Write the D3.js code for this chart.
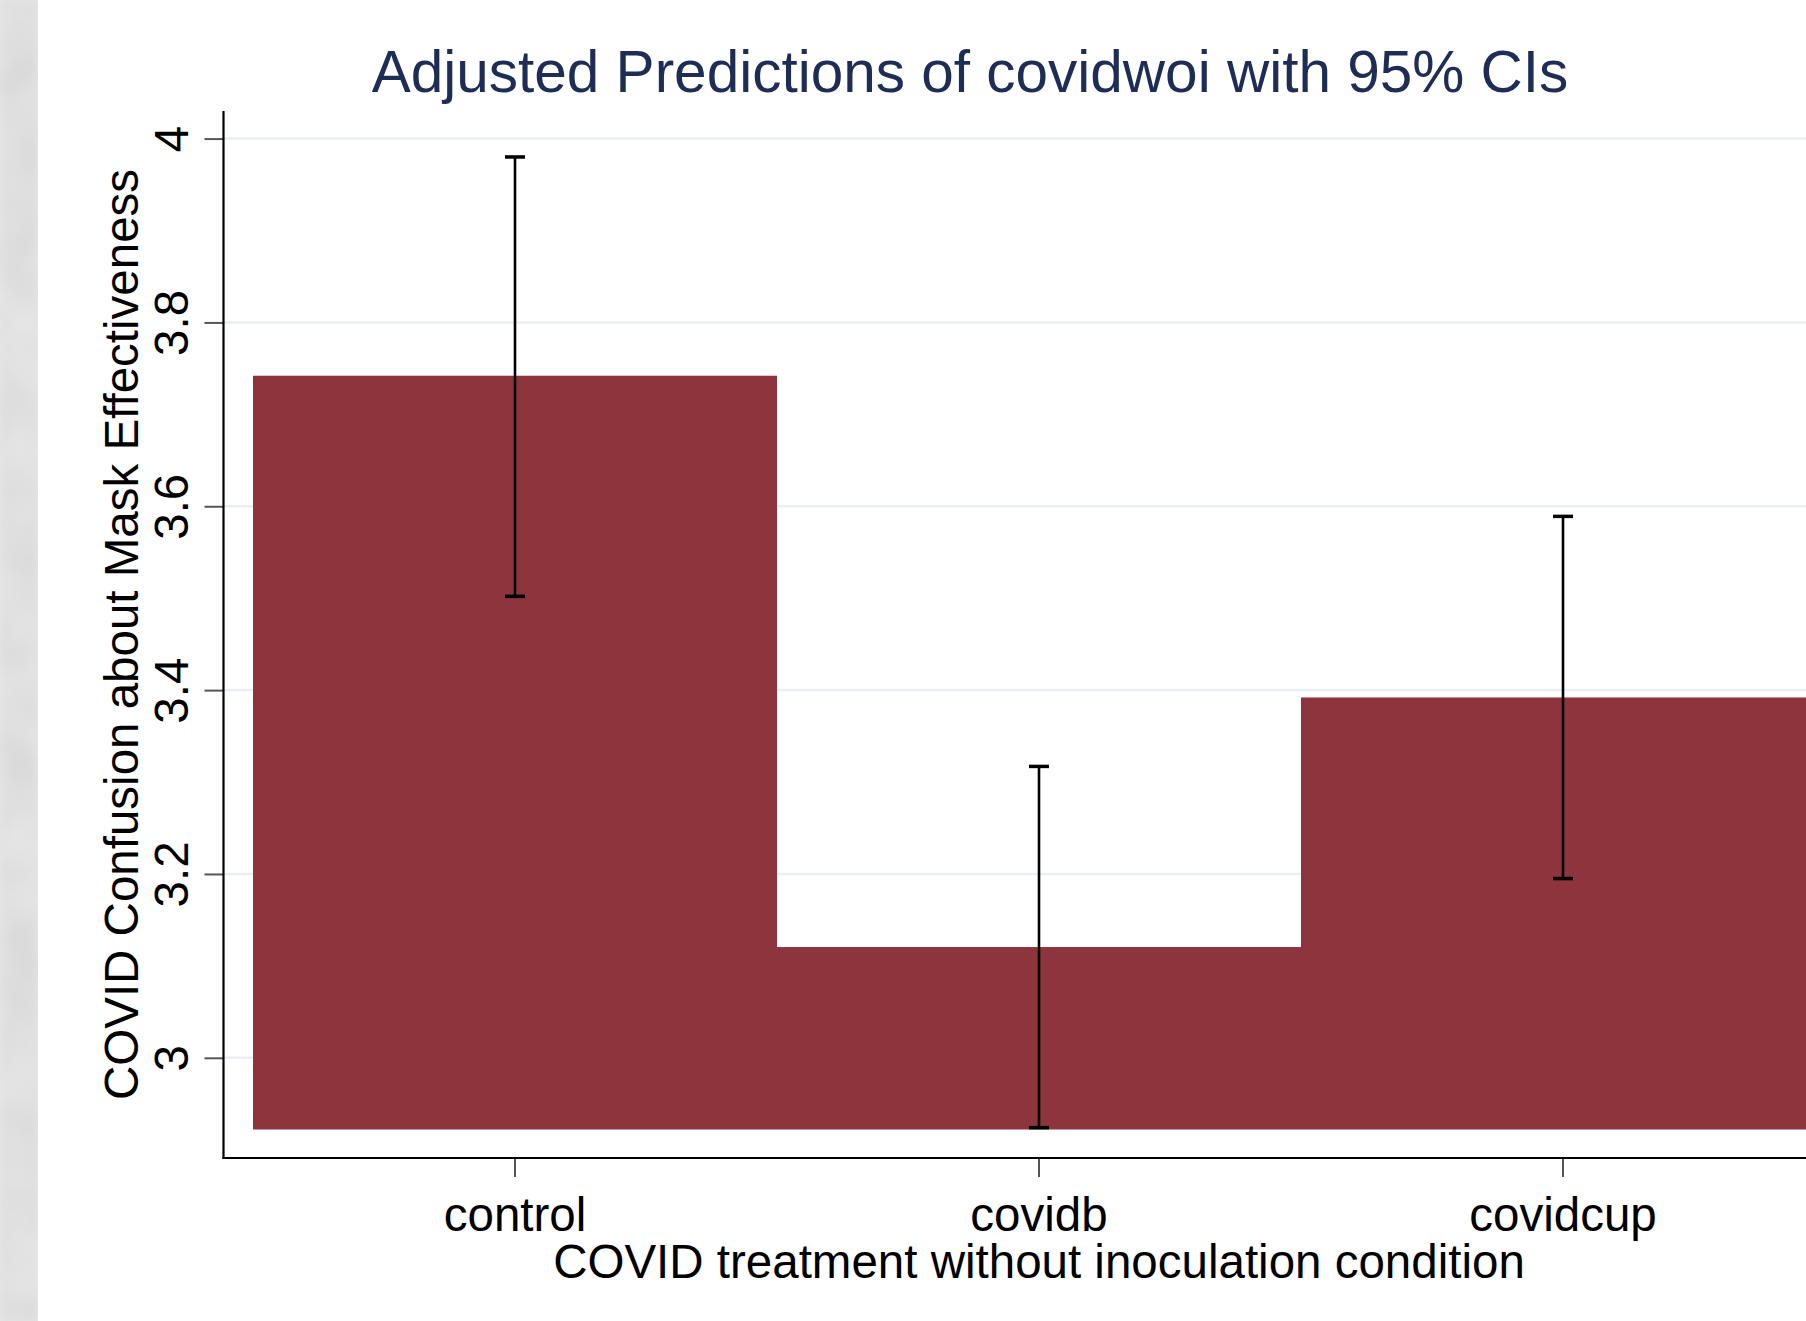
<!DOCTYPE html>
<html>
<head>
<meta charset="utf-8">
<script src="https://cdn.jsdelivr.net/npm/d3@7"></script>
<style>
  html, body { margin: 0; padding: 0; background: #ffffff; }
  svg { display: block; }
  text { font-family: "Liberation Sans", Arial, "DejaVu Sans", sans-serif; }
</style>
</head>
<body>
<script>
// ---- data ----
const categories = ["control", "covidb", "covidcup"];
const margins    = [3.742, 3.1205, 3.392];   // adjusted predictions
const ciLower    = [3.502, 2.924, 3.195];
const ciUpper    = [3.980, 3.317, 3.589];
const barBase    = 2.922;
const yTicks     = [3, 3.2, 3.4, 3.6, 3.8, 4];
const yTickLabels = ["3", "3.2", "3.4", "3.6", "3.8", "4"];
const titleText  = "Adjusted Predictions of covidwoi with 95% CIs";
const yTitleText = "COVID Confusion about Mask Effectiveness";
const xTitleText = "COVID treatment without inoculation condition";

// ---- layout ----
const W = 1806, H = 1321;
const axisX = 223.5, axisBottomY = 1158, axisTopY = 111;

const svg = d3.select("body").append("svg")
  .attr("width", W).attr("height", H);

// textured grey strip on the left
const defs = svg.append("defs");
const f = defs.append("filter").attr("id", "tex").attr("x", 0).attr("y", 0).attr("width", 1).attr("height", 1);
f.append("feTurbulence").attr("type", "fractalNoise").attr("baseFrequency", "0.018").attr("numOctaves", 2).attr("seed", 3).attr("result", "n");
f.append("feColorMatrix").attr("in", "n").attr("type", "matrix")
  .attr("values", "0 0 0 0 0.45  0 0 0 0 0.45  0 0 0 0 0.45  0 0 0 0.6 -0.1");
f.append("feGaussianBlur").attr("stdDeviation", 4);
svg.append("rect").attr("x", 0).attr("y", 0).attr("width", 38).attr("height", H).attr("fill", "#e6e6e6");
svg.append("rect").attr("x", 0).attr("y", 0).attr("width", 38).attr("height", H).attr("fill", "#ffffff").attr("filter", "url(#tex)").attr("opacity", 0.6);

// ---- scales ----
const y = d3.scaleLinear().domain([2.891, 4.030]).range([axisBottomY, axisTopY]);
const x = d3.scaleBand().domain(categories).range([253, 1825]).padding(0);

// gridlines
svg.append("g").selectAll("line").data(yTicks).join("line")
  .attr("x1", axisX).attr("x2", W)
  .attr("y1", d => y(d)).attr("y2", d => y(d))
  .attr("stroke", "#e8f0f1").attr("stroke-width", 2.5);

// bars
svg.append("g").selectAll("rect").data(categories).join("rect")
  .attr("x", d => x(d))
  .attr("width", x.bandwidth())
  .attr("y", (d, i) => y(margins[i]))
  .attr("height", (d, i) => y(barBase) - y(margins[i]))
  .attr("fill", "#8e343c");

// error bars
const capW = 20;
const eb = svg.append("g").attr("stroke", "#000").attr("stroke-width", 2.6);
categories.forEach((c, i) => {
  const cx = x(c) + x.bandwidth() / 2;
  eb.append("line").attr("x1", cx).attr("x2", cx).attr("y1", y(ciLower[i])).attr("y2", y(ciUpper[i]));
  eb.append("line").attr("x1", cx - capW / 2).attr("x2", cx + capW / 2).attr("y1", y(ciUpper[i])).attr("y2", y(ciUpper[i])).attr("stroke-width", 3.5);
  eb.append("line").attr("x1", cx - capW / 2).attr("x2", cx + capW / 2).attr("y1", y(ciLower[i])).attr("y2", y(ciLower[i])).attr("stroke-width", 3.5);
});

// y axis
const yAxis = svg.append("g").attr("transform", `translate(${axisX},0)`)
  .call(d3.axisLeft(y).tickValues(yTicks).tickFormat((d, i) => yTickLabels[i]).tickSize(19).tickSizeOuter(0));
yAxis.select(".domain").remove();
yAxis.selectAll(".tick line").attr("stroke", "#555").attr("stroke-width", 2);
yAxis.selectAll(".tick text")
  .attr("transform", "rotate(-90)")
  .attr("x", 0).attr("y", -35.5).attr("dy", 0)
  .attr("text-anchor", "middle")
  .attr("font-size", 47.5).attr("fill", "#000")
  .style("font-family", '"Liberation Sans", Arial, sans-serif');
svg.append("line").attr("x1", axisX).attr("x2", axisX).attr("y1", axisTopY).attr("y2", axisBottomY + 1)
  .attr("stroke", "#000").attr("stroke-width", 2.2);

// x axis
const xAxis = svg.append("g").attr("transform", `translate(0,${axisBottomY})`)
  .call(d3.axisBottom(x).tickSize(19).tickSizeOuter(0));
xAxis.select(".domain").remove();
xAxis.selectAll(".tick line").attr("stroke", "#555").attr("stroke-width", 2);
xAxis.selectAll(".tick text")
  .attr("y", 73).attr("dy", 0)
  .attr("font-size", 47.5).attr("fill", "#000")
  .style("font-family", '"Liberation Sans", Arial, sans-serif');
svg.append("line").attr("x1", axisX - 1).attr("x2", W).attr("y1", axisBottomY).attr("y2", axisBottomY)
  .attr("stroke", "#000").attr("stroke-width", 2.2);

// titles
svg.append("text").attr("x", 970).attr("y", 92)
  .attr("text-anchor", "middle").attr("font-size", 58.5).attr("fill", "#1e2d55")
  .text(titleText);
svg.append("text").attr("x", 1039).attr("y", 1278)
  .attr("text-anchor", "middle").attr("font-size", 47.5).attr("fill", "#000")
  .text(xTitleText);
svg.append("text").attr("transform", "translate(138,634.5) rotate(-90)")
  .attr("text-anchor", "middle").attr("font-size", 47.5).attr("fill", "#000")
  .text(yTitleText);
</script>
</body>
</html>
